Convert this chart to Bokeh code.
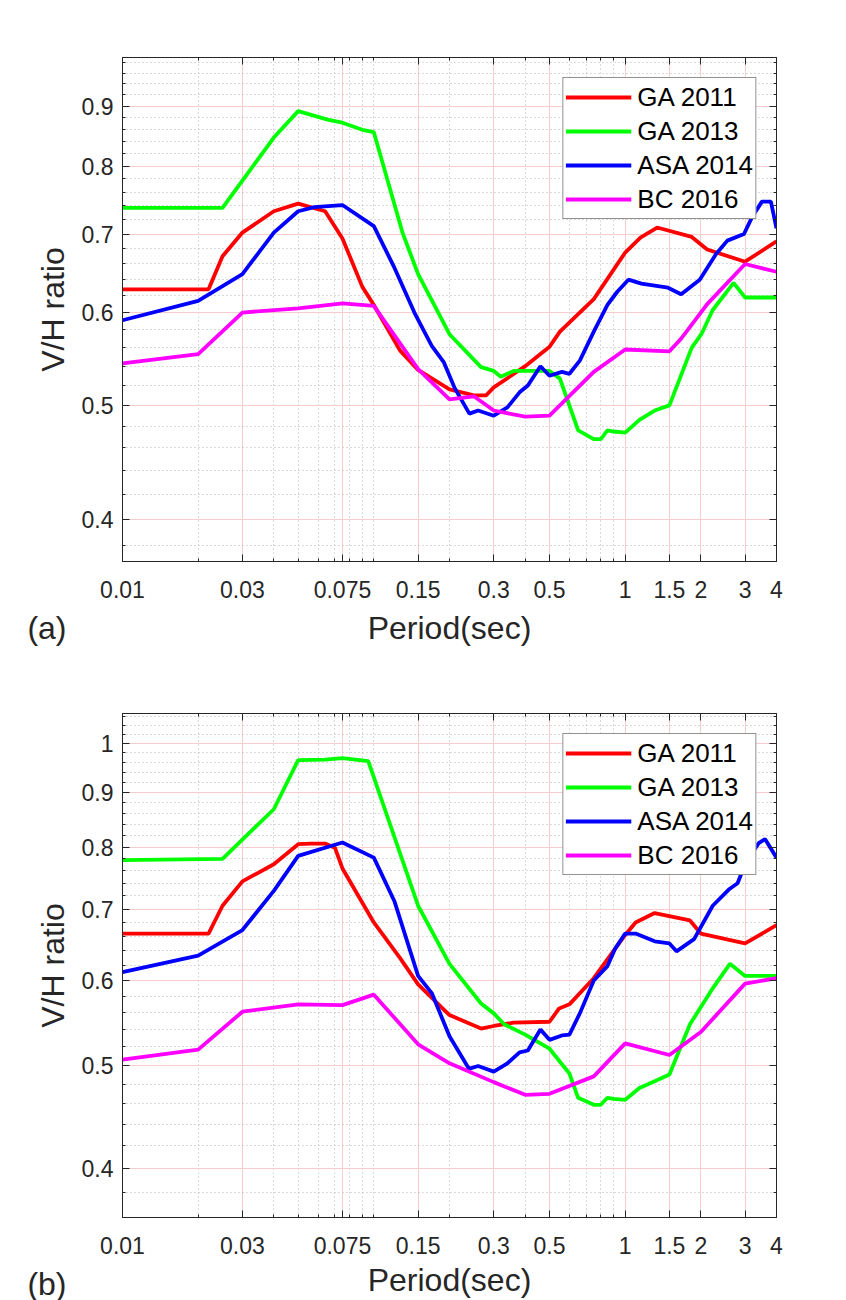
from bokeh.plotting import figure
from bokeh.models import FixedTicker, LogAxis, Label, CustomJSTickFormatter
from bokeh.layouts import column
from bokeh.embed import file_html
from bokeh.resources import INLINE

# ---------------- data ----------------
SERIES_NAMES = ["GA 2011", "GA 2013", "ASA 2014", "BC 2016"]
SERIES_COLORS = ["#ff0000", "#00ff00", "#0000ff", "#ff00ff"]

# Panel (a)
GA2011_a_T = [0.01, 0.022, 0.025, 0.03, 0.04, 0.05, 0.064, 0.075, 0.09, 0.1, 0.127, 0.15, 0.2, 0.25, 0.28, 0.3,
              0.4, 0.5, 0.55, 0.75, 1.0, 1.15, 1.34, 1.84, 2.12, 3.0, 4.0]
GA2011_a = [0.628, 0.628, 0.670, 0.702, 0.732, 0.743, 0.732, 0.694, 0.631, 0.609, 0.557, 0.536, 0.516, 0.510, 0.510,
            0.518, 0.540, 0.561, 0.578, 0.616, 0.675, 0.695, 0.709, 0.696, 0.679, 0.663, 0.690]

GA2013_a_T = [0.01, 0.025, 0.04, 0.05, 0.066, 0.075, 0.09, 0.1, 0.13, 0.15, 0.2, 0.267, 0.3, 0.32, 0.36, 0.5, 0.55,
              0.65, 0.75, 0.8, 0.85, 0.9, 1.0, 1.14, 1.31, 1.5, 1.84, 2.01, 2.23, 2.7, 3.0, 4.0]
GA2013_a = [0.737, 0.737, 0.846, 0.891, 0.876, 0.871, 0.859, 0.855, 0.702, 0.647, 0.575, 0.539, 0.535, 0.529, 0.535,
            0.535, 0.527, 0.476, 0.468, 0.468, 0.476, 0.475, 0.474, 0.486, 0.495, 0.500, 0.560, 0.575, 0.603, 0.636,
            0.618, 0.618]

ASA2014_a_T = [0.01, 0.02, 0.03, 0.04, 0.05, 0.058, 0.075, 0.1, 0.12, 0.145, 0.158, 0.17, 0.19, 0.21, 0.24, 0.26,
               0.3, 0.34, 0.38, 0.41, 0.46, 0.5, 0.56, 0.6, 0.66, 0.75, 0.85, 0.93, 1.03, 1.16, 1.48, 1.67, 1.98,
               2.3, 2.55, 2.97, 3.2, 3.5, 3.8, 4.0]
ASA2014_a = [0.591, 0.614, 0.647, 0.702, 0.732, 0.738, 0.741, 0.711, 0.657, 0.600, 0.579, 0.562, 0.544, 0.517, 0.492,
             0.495, 0.490, 0.498, 0.513, 0.520, 0.540, 0.530, 0.534, 0.532, 0.546, 0.578, 0.609, 0.625, 0.640, 0.635,
             0.630, 0.622, 0.640, 0.673, 0.691, 0.700, 0.724, 0.746, 0.746, 0.708]

BC2016_a_T = [0.01, 0.02, 0.03, 0.05, 0.075, 0.1, 0.15, 0.2, 0.25, 0.3, 0.4, 0.5, 0.75, 1.0, 1.5, 1.67, 2.12, 3.0, 4.0]
BC2016_a = [0.543, 0.553, 0.600, 0.605, 0.611, 0.608, 0.537, 0.506, 0.509, 0.495, 0.489, 0.490, 0.534, 0.558, 0.556,
            0.570, 0.610, 0.660, 0.650]

# Panel (b)
GA2011_b_T = [0.01, 0.022, 0.025, 0.03, 0.04, 0.05, 0.056, 0.064, 0.07, 0.075, 0.1, 0.127, 0.15, 0.2, 0.267, 0.3,
              0.36, 0.5, 0.546, 0.6, 0.75, 1.0, 1.1, 1.31, 1.81, 2.0, 3.0, 4.0]
GA2011_b = [0.664, 0.664, 0.705, 0.743, 0.771, 0.805, 0.806, 0.806, 0.799, 0.764, 0.680, 0.630, 0.595, 0.557, 0.541,
            0.544, 0.548, 0.549, 0.565, 0.570, 0.603, 0.662, 0.680, 0.694, 0.683, 0.664, 0.650, 0.676]

GA2013_b_T = [0.01, 0.025, 0.04, 0.05, 0.064, 0.075, 0.095, 0.15, 0.2, 0.267, 0.3, 0.33, 0.4, 0.5, 0.6, 0.65, 0.75,
              0.8, 0.85, 0.9, 1.0, 1.14, 1.31, 1.5, 1.81, 2.23, 2.61, 3.0, 4.0]
GA2013_b = [0.778, 0.780, 0.868, 0.965, 0.966, 0.969, 0.963, 0.705, 0.622, 0.571, 0.559, 0.546, 0.534, 0.518, 0.491,
            0.466, 0.459, 0.459, 0.466, 0.465, 0.464, 0.476, 0.483, 0.490, 0.546, 0.590, 0.622, 0.606, 0.606]

ASA2014_b_T = [0.01, 0.02, 0.03, 0.04, 0.05, 0.075, 0.1, 0.121, 0.15, 0.17, 0.2, 0.239, 0.26, 0.3, 0.34, 0.38, 0.41,
               0.46, 0.5, 0.56, 0.6, 0.66, 0.75, 0.85, 0.91, 1.0, 1.1, 1.31, 1.5, 1.6, 1.88, 2.23, 2.6, 2.8, 3.0,
               3.4, 3.6, 4.0]
ASA2014_b = [0.611, 0.633, 0.669, 0.728, 0.785, 0.808, 0.782, 0.711, 0.606, 0.584, 0.532, 0.496, 0.499, 0.493, 0.502,
             0.514, 0.516, 0.540, 0.528, 0.533, 0.534, 0.559, 0.600, 0.619, 0.642, 0.664, 0.664, 0.653, 0.650, 0.639,
             0.656, 0.705, 0.731, 0.740, 0.771, 0.807, 0.814, 0.782]

BC2016_b_T = [0.01, 0.02, 0.03, 0.05, 0.075, 0.1, 0.15, 0.2, 0.3, 0.4, 0.5, 0.75, 1.0, 1.5, 2.0, 3.0, 4.0]
BC2016_b = [0.506, 0.517, 0.561, 0.570, 0.569, 0.582, 0.523, 0.502, 0.482, 0.469, 0.470, 0.488, 0.524, 0.511, 0.537,
            0.596, 0.603]

# Tick values / labels
X_TICKS = [0.01, 0.03, 0.075, 0.15, 0.3, 0.5, 1, 1.5, 2, 3, 4]
X_MINOR = [0.02, 0.04, 0.05, 0.06, 0.07, 0.08, 0.09, 0.1, 0.2, 0.4, 0.6, 0.7, 0.8, 0.9]
Y_TICKS_A = [0.4, 0.5, 0.6, 0.7, 0.8, 0.9]
Y_MINOR_A = [0.38, 0.42, 0.44, 0.46, 0.48, 0.52, 0.54, 0.56, 0.58, 0.62, 0.64, 0.66, 0.68,
             0.72, 0.74, 0.76, 0.78, 0.82, 0.84, 0.86, 0.88, 0.92, 0.94, 0.96, 0.98]
Y_TICKS_B = [0.4, 0.5, 0.6, 0.7, 0.8, 0.9, 1]
Y_MINOR_B = Y_MINOR_A + [1.02, 1.04, 1.06]

X_LABEL = "Period(sec)"
Y_LABEL = "V/H ratio"

FONT = "Liberation Sans"
TXT = "#262626"
W = 838
FRAME_L, FRAME_R = 122, 62


def make_panel(series, y_range, y_ticks, y_minor, top_border, bottom_border):
    frame_h = 504
    p = figure(width=W, height=top_border + frame_h + bottom_border,
               x_axis_type="log", y_axis_type="log",
               x_range=(0.01, 4), y_range=y_range,
               output_backend="svg", toolbar_location=None,
               min_border_left=FRAME_L, min_border_right=FRAME_R,
               min_border_top=top_border, min_border_bottom=bottom_border,
               background_fill_color="white", border_fill_color="white")
    p.outline_line_color = TXT
    p.outline_line_width = 1

    xt = FixedTicker(ticks=X_TICKS, minor_ticks=X_MINOR)
    yt = FixedTicker(ticks=y_ticks, minor_ticks=y_minor)
    fmt = CustomJSTickFormatter(code="return tick.toString();")
    blank = CustomJSTickFormatter(code="return '';")

    for ax, t in ((p.xaxis[0], xt), (p.yaxis[0], yt)):
        ax.ticker = t
        ax.formatter = fmt
        ax.major_tick_in = 7
        ax.major_tick_out = 0
        ax.minor_tick_in = 3
        ax.minor_tick_out = 0
        ax.axis_line_color = TXT
        ax.major_tick_line_color = TXT
        ax.minor_tick_line_color = TXT
        ax.major_label_text_font = FONT
        ax.major_label_text_font_size = "23px"
        ax.major_label_text_color = TXT
        ax.axis_label_text_font = FONT
        ax.axis_label_text_font_size = "32px"
        ax.axis_label_text_font_style = "normal"
        ax.axis_label_text_color = TXT

    p.yaxis.axis_label = Y_LABEL
    p.xaxis.major_label_standoff = 19
    p.yaxis.major_label_standoff = 9
    p.yaxis.axis_label_standoff = 8

    # mirror axes (box on)
    top = LogAxis(ticker=xt, formatter=blank)
    right = LogAxis(ticker=yt, formatter=blank)
    for ax in (top, right):
        ax.major_label_standoff = 0
        ax.major_tick_in = 7
        ax.major_tick_out = 0
        ax.minor_tick_in = 3
        ax.minor_tick_out = 0
        ax.axis_line_color = TXT
        ax.major_tick_line_color = TXT
        ax.minor_tick_line_color = TXT
    p.add_layout(top, "above")
    p.add_layout(right, "right")

    # grids
    p.xgrid.ticker = xt
    p.ygrid.ticker = yt
    for g in (p.xgrid[0], p.ygrid[0]):
        g.grid_line_color = "#f7cccc"
        g.grid_line_width = 1
        g.minor_grid_line_color = "#b4b4b4"
        g.minor_grid_line_dash = "1 3"
        g.minor_grid_line_width = 1

    for (name, color, (tx, vy)) in zip(SERIES_NAMES, SERIES_COLORS, series):
        p.line(tx, vy, line_color=color, line_width=3.8, legend_label=name)

    lg = p.legend[0]
    lg.location = "top_right"
    lg.margin = 20
    lg.padding = 2
    lg.spacing = 0
    lg.glyph_width = 66
    lg.glyph_height = 34
    lg.label_height = 34
    lg.label_standoff = 6
    lg.label_text_font = FONT
    lg.label_text_font_size = "26px"
    lg.label_text_color = "#000000"
    lg.border_line_color = TXT
    lg.border_line_width = 1
    lg.background_fill_color = "white"
    lg.background_fill_alpha = 1.0
    return p


def make_strip(tag, height, text_y):
    # row under each panel: panel tag at the left, x-axis title centred under the frame
    s = figure(width=W, height=height, x_range=(0, 1), y_range=(0, height),
               output_backend="svg", toolbar_location=None,
               min_border_left=FRAME_L, min_border_right=FRAME_R,
               min_border_top=0, min_border_bottom=0,
               x_axis_location=None,
               background_fill_color="white", border_fill_color="white")
    s.outline_line_color = None
    s.grid.visible = False
    ya = s.yaxis[0]
    ya.ticker = FixedTicker(ticks=[text_y], minor_ticks=[])
    ya.major_label_overrides = {text_y: tag}
    ya.axis_line_color = None
    ya.major_tick_line_color = None
    ya.minor_tick_line_color = None
    ya.major_tick_out = 0
    ya.major_tick_in = 0
    ya.major_label_standoff = 56
    ya.major_label_text_font = FONT
    ya.major_label_text_font_size = "32px"
    ya.major_label_text_color = TXT
    s.add_layout(Label(x=0.5, y=text_y, text=X_LABEL, text_font=FONT, text_font_size="32px",
                       text_color=TXT, text_align="center", text_baseline="middle"))
    return s


pa = make_panel([(GA2011_a_T, GA2011_a), (GA2013_a_T, GA2013_a), (ASA2014_a_T, ASA2014_a), (BC2016_a_T, BC2016_a)],
                (0.368, 0.99), Y_TICKS_A, Y_MINOR_A, 57, 48)
sa = make_strip("(a)", 41, 23)
pb = make_panel([(GA2011_b_T, GA2011_b), (GA2013_b_T, GA2013_b), (ASA2014_b_T, ASA2014_b), (BC2016_b_T, BC2016_b)],
                (0.36, 1.067), Y_TICKS_B, Y_MINOR_B, 63, 46)
sb = make_strip("(b)", 37, 21)

layout = column(pa, sa, pb, sb, spacing=0)
open("out.html", "w").write(file_html(layout, INLINE))
